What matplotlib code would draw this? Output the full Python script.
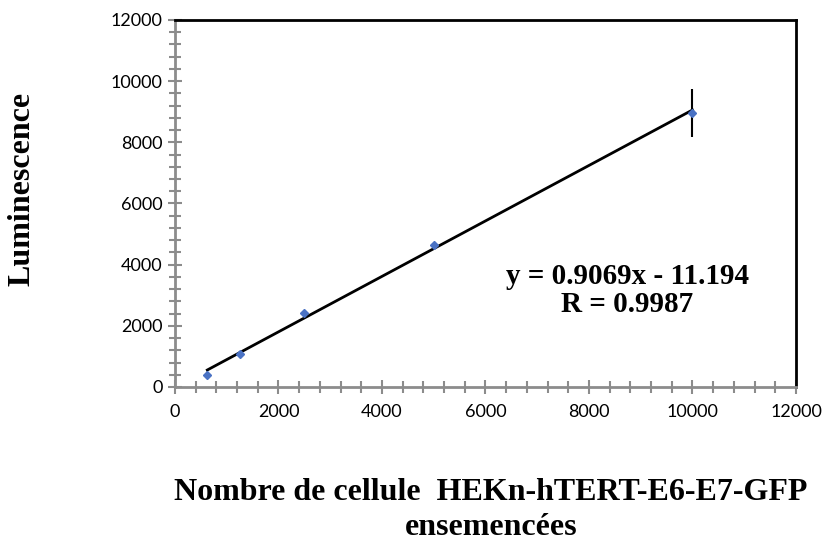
import matplotlib.pyplot as plt
from matplotlib.ticker import MultipleLocator

cells = [625, 1250, 2500, 5000, 10000]
lum = [400, 1070, 2420, 4640, 8970]
lum_err = [0, 0, 0, 0, 780]
slope = 0.9069
intercept = -11.194
r_value = 0.9987

fig = plt.figure(figsize=(8.32, 5.42), dpi=100)
ax = fig.add_axes([0.2103, 0.286, 0.7464, 0.6771])

fit_x = [cells[0], cells[-1]]
fit_y = [slope * v + intercept for v in fit_x]
ax.plot(fit_x, fit_y, color='black', lw=2, zorder=2)

ax.errorbar(cells, lum, yerr=lum_err, fmt='none', ecolor='black', elinewidth=1.5, capsize=0, zorder=3)
ax.plot(cells, lum, 'D', color='#4a72c4', ms=4.5, zorder=4)

ax.set_xlim(0, 12000)
ax.set_ylim(0, 12000)
ax.xaxis.set_major_locator(MultipleLocator(2000))
ax.xaxis.set_minor_locator(MultipleLocator(400))
ax.yaxis.set_major_locator(MultipleLocator(2000))
ax.yaxis.set_minor_locator(MultipleLocator(400))

gray = '#8c8c8c'
for side in ['left', 'bottom']:
    ax.spines[side].set_color(gray)
    ax.spines[side].set_linewidth(2)
for side in ['top', 'right']:
    ax.spines[side].set_color('black')
    ax.spines[side].set_linewidth(2)

ax.tick_params(which='major', direction='inout', length=10, width=1.5, color=gray,
               labelsize=13)
ax.tick_params(which='minor', direction='inout', length=8, width=1.5, color=gray)
ax.tick_params(axis='y', which='major', pad=4)
ax.tick_params(axis='x', which='major', pad=7)
for lab in ax.get_xticklabels() + ax.get_yticklabels():
    lab.set_family('Lato')

ax.text(0.728, 0.262, 'y = %.4fx - %.3f\nR = %.4f' % (slope, -intercept, r_value),
        transform=ax.transAxes, ha='center', va='center', family='Liberation Serif',
        fontweight='bold', fontsize=21, linespacing=1.05)

title_font = dict(family='Liberation Serif', fontweight='bold', fontsize=23)
fig.text(0.027, 0.651, 'Luminescence', rotation=90, ha='center', va='center', **title_font)
# x axis title, two lines
fig.text(0.590, 0.078, 'Nombre de cellule  HEKn-hTERT-E6-E7-GFP', ha='center', va='baseline', **title_font)
fig.text(0.590, 0.013, 'ensemencées', ha='center', va='baseline', **title_font)

fig.savefig('out.png', dpi=100)
